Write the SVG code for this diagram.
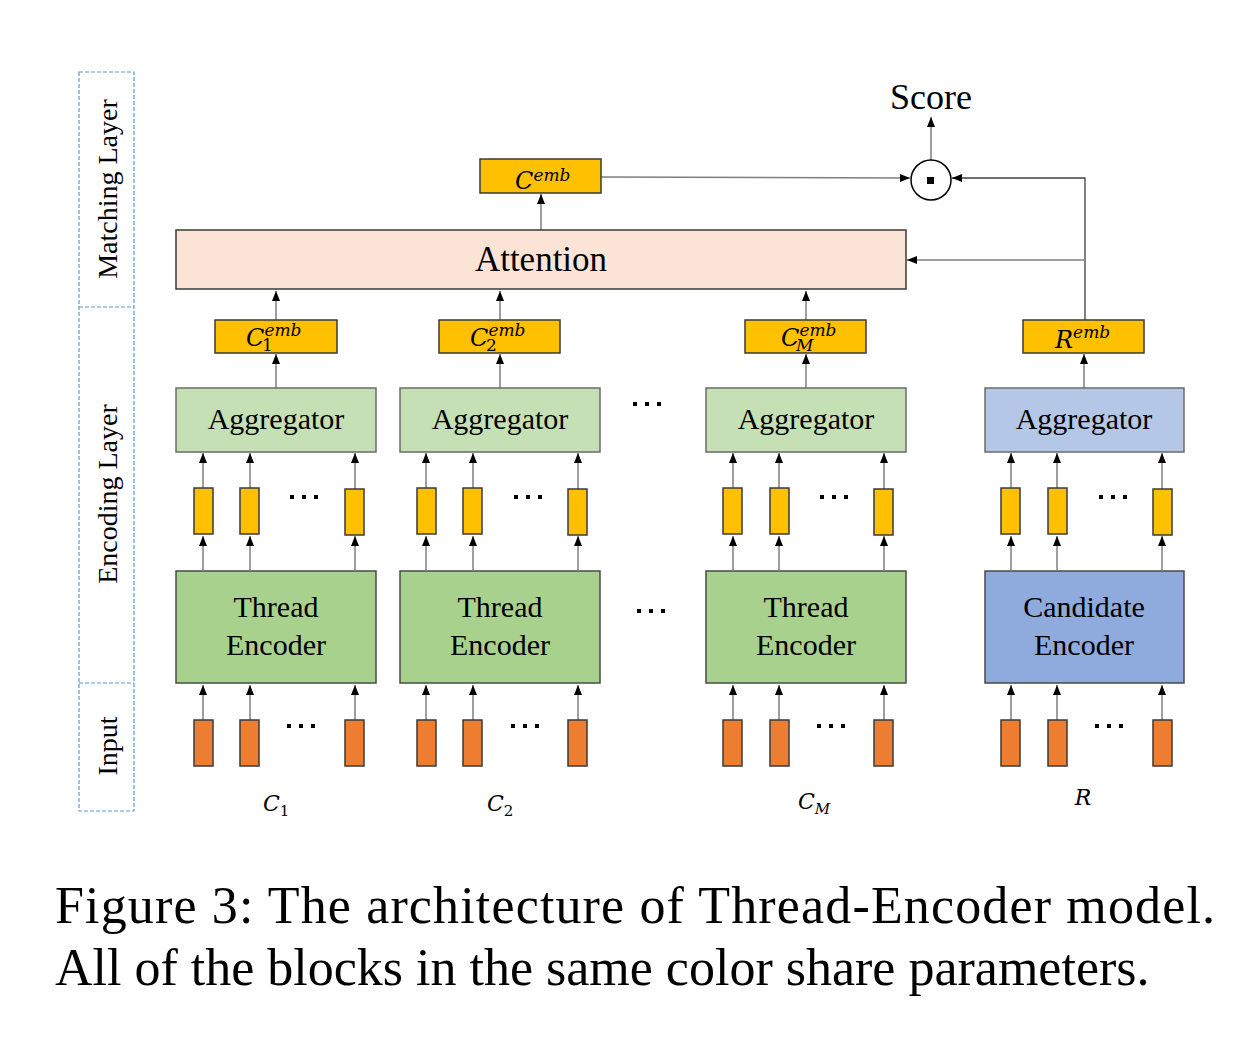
<svg xmlns="http://www.w3.org/2000/svg" width="1260" height="1038" viewBox="0 0 1260 1038">
<style>
.t{font-family:"Liberation Serif","Times New Roman",serif;fill:#000}
.m{font-family:"DejaVu Serif",serif;font-style:italic;fill:#000}
.ln{stroke:#7f7f7f;stroke-width:1.5;fill:none}
.lnd{stroke:#404040;stroke-width:1.3;fill:none}
.emb{fill:#FFC000;stroke:#3a3a3a;stroke-width:1.5}
.tok{fill:#FFC000;stroke:#3a3a3a;stroke-width:1.5}
.in{fill:#ED7D31;stroke:#3a3a3a;stroke-width:1.5}
.agg{fill:#C5E0B4;stroke:#6b6b6b;stroke-width:1.5}
.aggb{fill:#B4C7E7;stroke:#6b6b6b;stroke-width:1.5}
.enc{fill:#A9D18E;stroke:#4a4a4a;stroke-width:1.5}
.encb{fill:#8FAADC;stroke:#4a4a4a;stroke-width:1.5}
.layer{fill:none;stroke:#5B9BD5;stroke-width:1.2;stroke-dasharray:4 2}
</style>
<defs>
<marker id="ah" markerUnits="userSpaceOnUse" markerWidth="10" markerHeight="10" viewBox="0 0 10 10" refX="10" refY="5" orient="auto">
<path d="M0,1 L10,5 L0,9 Z" fill="#000"/>
</marker>
</defs>
<rect width="1260" height="1038" fill="#fff"/>

<g id="layers">
<rect class="layer" x="79" y="72" width="55" height="739"/>
<line class="layer" x1="79" y1="307" x2="134" y2="307"/>
<line class="layer" x1="79" y1="683" x2="134" y2="683"/>
<text class="t" font-size="28" text-anchor="middle" transform="translate(117,189) rotate(-90)">Matching Layer</text>
<text class="t" font-size="28" text-anchor="middle" transform="translate(117,494) rotate(-90)">Encoding Layer</text>
<text class="t" font-size="28" text-anchor="middle" transform="translate(117,746) rotate(-90)">Input</text>
</g>

<g id="connectors">
<line class="ln" x1="931" y1="160" x2="931" y2="117" marker-end="url(#ah)"/>
<line class="ln" x1="601" y1="177" x2="910" y2="178" marker-end="url(#ah)"/>
<polyline class="lnd" points="1085,320 1085,178 952,178" marker-end="url(#ah)"/>
<line class="ln" x1="1085" y1="260" x2="907" y2="260" marker-end="url(#ah)"/>
<line class="ln" x1="541" y1="230" x2="541" y2="194" marker-end="url(#ah)"/>
<line class="ln" x1="276" y1="320" x2="276" y2="291" marker-end="url(#ah)"/>
<line class="ln" x1="500" y1="320" x2="500" y2="291" marker-end="url(#ah)"/>
<line class="ln" x1="806" y1="320" x2="806" y2="291" marker-end="url(#ah)"/>
<line class="ln" x1="276" y1="388" x2="276" y2="354" marker-end="url(#ah)"/>
<line class="ln" x1="500" y1="388" x2="500" y2="354" marker-end="url(#ah)"/>
<line class="ln" x1="806" y1="388" x2="806" y2="354" marker-end="url(#ah)"/>
<line class="ln" x1="1084" y1="388" x2="1084" y2="354" marker-end="url(#ah)"/>
</g>

<g id="score">
<text class="t" x="931" y="109" font-size="36" text-anchor="middle">Score</text>
</g>
<g id="dot">
<circle cx="931" cy="180" r="20" fill="#fff" stroke="#000" stroke-width="1.5"/>
<rect x="927" y="177" width="7" height="7" fill="#000"/>
</g>
<g id="cemb">
<rect class="emb" x="480" y="159" width="121" height="34"/>
<text class="m" x="515" y="189" font-size="24">C<tspan font-size="17" dy="-8">emb</tspan></text>
</g>
<g id="attention">
<rect x="176" y="230" width="730" height="59" fill="#FBE4D5" stroke="#3a3a3a" stroke-width="1.5"/>
<text class="t" x="541" y="271" font-size="35" text-anchor="middle">Attention</text>
</g>

<g id="c1emb"><rect class="emb" x="215" y="320" width="122" height="33"/>
<text class="m" x="246" y="346" font-size="24">C<tspan font-size="17" dy="-10">emb</tspan><tspan x="262" dy="15" font-size="17" font-style="normal">1</tspan></text></g>
<g id="c2emb"><rect class="emb" x="439" y="320" width="121" height="33"/>
<text class="m" x="470" y="346" font-size="24">C<tspan font-size="17" dy="-10">emb</tspan><tspan x="486" dy="15" font-size="17" font-style="normal">2</tspan></text></g>
<g id="cMemb"><rect class="emb" x="745" y="320" width="121" height="33"/>
<text class="m" x="781" y="346" font-size="24">C<tspan font-size="17" dy="-10">emb</tspan><tspan x="796" dy="15" font-size="17">M</tspan></text></g>
<g id="remb"><rect class="emb" x="1023" y="320" width="121" height="33"/>
<text class="m" x="1055" y="348" font-size="24">R<tspan font-size="17" dy="-10">emb</tspan></text></g>

<g id="agg1"><rect class="agg" x="176" y="388" width="200" height="64"/><text class="t" x="276" y="429" font-size="30" text-anchor="middle">Aggregator</text></g>
<g id="agg2"><rect class="agg" x="400" y="388" width="200" height="64"/><text class="t" x="500" y="429" font-size="30" text-anchor="middle">Aggregator</text></g>
<g id="agg3"><rect class="agg" x="706" y="388" width="200" height="64"/><text class="t" x="806" y="429" font-size="30" text-anchor="middle">Aggregator</text></g>
<g id="agg4"><rect class="aggb" x="985" y="388" width="199" height="64"/><text class="t" x="1084" y="429" font-size="30" text-anchor="middle">Aggregator</text></g>

<g id="enc1"><rect class="enc" x="176" y="571" width="200" height="112"/><text class="t" x="276" y="617" font-size="30" text-anchor="middle">Thread</text><text class="t" x="276" y="655" font-size="30" text-anchor="middle">Encoder</text></g>
<g id="enc2"><rect class="enc" x="400" y="571" width="200" height="112"/><text class="t" x="500" y="617" font-size="30" text-anchor="middle">Thread</text><text class="t" x="500" y="655" font-size="30" text-anchor="middle">Encoder</text></g>
<g id="enc3"><rect class="enc" x="706" y="571" width="200" height="112"/><text class="t" x="806" y="617" font-size="30" text-anchor="middle">Thread</text><text class="t" x="806" y="655" font-size="30" text-anchor="middle">Encoder</text></g>
<g id="enc4"><rect class="encb" x="985" y="571" width="199" height="112"/><text class="t" x="1084" y="617" font-size="30" text-anchor="middle">Candidate</text><text class="t" x="1084" y="655" font-size="30" text-anchor="middle">Encoder</text></g>

<g id="tokens">
<g id="col1">
<line class="ln" x1="203" y1="571" x2="203" y2="536" marker-end="url(#ah)"/><line class="ln" x1="250" y1="571" x2="250" y2="536" marker-end="url(#ah)"/><line class="ln" x1="355" y1="571" x2="355" y2="536" marker-end="url(#ah)"/>
<line class="ln" x1="203" y1="488" x2="203" y2="453" marker-end="url(#ah)"/><line class="ln" x1="250" y1="488" x2="250" y2="453" marker-end="url(#ah)"/><line class="ln" x1="355" y1="489" x2="355" y2="453" marker-end="url(#ah)"/>
<rect class="tok" x="194" y="488" width="19" height="46"/><rect class="tok" x="240" y="488" width="19" height="46"/><rect class="tok" x="345" y="489" width="19" height="46"/>
<line class="ln" x1="203" y1="720" x2="203" y2="685" marker-end="url(#ah)"/><line class="ln" x1="250" y1="720" x2="250" y2="685" marker-end="url(#ah)"/><line class="ln" x1="355" y1="720" x2="355" y2="685" marker-end="url(#ah)"/>
<rect class="in" x="194" y="720" width="19" height="46"/><rect class="in" x="240" y="720" width="19" height="46"/><rect class="in" x="345" y="720" width="19" height="46"/>
</g>
<g id="col2">
<line class="ln" x1="426" y1="571" x2="426" y2="536" marker-end="url(#ah)"/><line class="ln" x1="473" y1="571" x2="473" y2="536" marker-end="url(#ah)"/><line class="ln" x1="578" y1="571" x2="578" y2="536" marker-end="url(#ah)"/>
<line class="ln" x1="426" y1="488" x2="426" y2="453" marker-end="url(#ah)"/><line class="ln" x1="473" y1="488" x2="473" y2="453" marker-end="url(#ah)"/><line class="ln" x1="578" y1="489" x2="578" y2="453" marker-end="url(#ah)"/>
<rect class="tok" x="417" y="488" width="19" height="46"/><rect class="tok" x="463" y="488" width="19" height="46"/><rect class="tok" x="568" y="489" width="19" height="46"/>
<line class="ln" x1="426" y1="720" x2="426" y2="685" marker-end="url(#ah)"/><line class="ln" x1="473" y1="720" x2="473" y2="685" marker-end="url(#ah)"/><line class="ln" x1="578" y1="720" x2="578" y2="685" marker-end="url(#ah)"/>
<rect class="in" x="417" y="720" width="19" height="46"/><rect class="in" x="463" y="720" width="19" height="46"/><rect class="in" x="568" y="720" width="19" height="46"/>
</g>
<g id="col3">
<line class="ln" x1="733" y1="571" x2="733" y2="536" marker-end="url(#ah)"/><line class="ln" x1="779" y1="571" x2="779" y2="536" marker-end="url(#ah)"/><line class="ln" x1="884" y1="571" x2="884" y2="536" marker-end="url(#ah)"/>
<line class="ln" x1="733" y1="488" x2="733" y2="453" marker-end="url(#ah)"/><line class="ln" x1="779" y1="488" x2="779" y2="453" marker-end="url(#ah)"/><line class="ln" x1="884" y1="489" x2="884" y2="453" marker-end="url(#ah)"/>
<rect class="tok" x="723" y="488" width="19" height="46"/><rect class="tok" x="770" y="488" width="19" height="46"/><rect class="tok" x="874" y="489" width="19" height="46"/>
<line class="ln" x1="733" y1="720" x2="733" y2="685" marker-end="url(#ah)"/><line class="ln" x1="779" y1="720" x2="779" y2="685" marker-end="url(#ah)"/><line class="ln" x1="884" y1="720" x2="884" y2="685" marker-end="url(#ah)"/>
<rect class="in" x="723" y="720" width="19" height="46"/><rect class="in" x="770" y="720" width="19" height="46"/><rect class="in" x="874" y="720" width="19" height="46"/>
</g>
<g id="col4">
<line class="ln" x1="1011" y1="571" x2="1011" y2="536" marker-end="url(#ah)"/><line class="ln" x1="1057" y1="571" x2="1057" y2="536" marker-end="url(#ah)"/><line class="ln" x1="1162" y1="571" x2="1162" y2="536" marker-end="url(#ah)"/>
<line class="ln" x1="1011" y1="488" x2="1011" y2="453" marker-end="url(#ah)"/><line class="ln" x1="1057" y1="488" x2="1057" y2="453" marker-end="url(#ah)"/><line class="ln" x1="1162" y1="489" x2="1162" y2="453" marker-end="url(#ah)"/>
<rect class="tok" x="1001" y="488" width="19" height="46"/><rect class="tok" x="1048" y="488" width="19" height="46"/><rect class="tok" x="1153" y="489" width="19" height="46"/>
<line class="ln" x1="1011" y1="720" x2="1011" y2="685" marker-end="url(#ah)"/><line class="ln" x1="1057" y1="720" x2="1057" y2="685" marker-end="url(#ah)"/><line class="ln" x1="1162" y1="720" x2="1162" y2="685" marker-end="url(#ah)"/>
<rect class="in" x="1001" y="720" width="19" height="46"/><rect class="in" x="1048" y="720" width="19" height="46"/><rect class="in" x="1153" y="720" width="19" height="46"/>
</g>
</g>

<g id="dots" fill="#000">
<g><rect x="290" y="495" width="4" height="4"/><rect x="302" y="495" width="4" height="4"/><rect x="314" y="495" width="4" height="4"/></g>
<g><rect x="514" y="495" width="4" height="4"/><rect x="526" y="495" width="4" height="4"/><rect x="538" y="495" width="4" height="4"/></g>
<g><rect x="820" y="495" width="4" height="4"/><rect x="832" y="495" width="4" height="4"/><rect x="844" y="495" width="4" height="4"/></g>
<g><rect x="1099" y="495" width="4" height="4"/><rect x="1111" y="495" width="4" height="4"/><rect x="1123" y="495" width="4" height="4"/></g>
<g><rect x="287" y="724" width="4" height="4"/><rect x="299" y="724" width="4" height="4"/><rect x="311" y="724" width="4" height="4"/></g>
<g><rect x="511" y="724" width="4" height="4"/><rect x="523" y="724" width="4" height="4"/><rect x="535" y="724" width="4" height="4"/></g>
<g><rect x="817" y="724" width="4" height="4"/><rect x="829" y="724" width="4" height="4"/><rect x="841" y="724" width="4" height="4"/></g>
<g><rect x="1095" y="724" width="4" height="4"/><rect x="1107" y="724" width="4" height="4"/><rect x="1119" y="724" width="4" height="4"/></g>
<g><rect x="633" y="402" width="4" height="4"/><rect x="645" y="402" width="4" height="4"/><rect x="657" y="402" width="4" height="4"/></g>
<g><rect x="637" y="609" width="4" height="4"/><rect x="649" y="609" width="4" height="4"/><rect x="661" y="609" width="4" height="4"/></g>
</g>

<g id="inputlabels">
<text class="m" x="263" y="811" font-size="22">C<tspan font-size="15" dy="5" font-style="normal">1</tspan></text>
<text class="m" x="487" y="811" font-size="22">C<tspan font-size="15" dy="5" font-style="normal">2</tspan></text>
<text class="m" x="798" y="809" font-size="22">C<tspan font-size="15" dy="5">M</tspan></text>
<text class="m" x="1083" y="805" font-size="22" text-anchor="middle">R</text>
</g>

<g id="caption">
<text class="t" x="55" y="923" font-size="52" textLength="1160" lengthAdjust="spacing">Figure 3:  The architecture of Thread-Encoder model.</text>
<text class="t" x="55" y="985" font-size="52">All of the blocks in the same color share parameters.</text>
</g>
</svg>
